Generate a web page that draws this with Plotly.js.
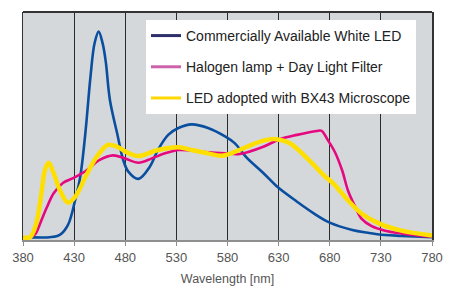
<!DOCTYPE html>
<html>
<head>
<meta charset="utf-8">
<script src="https://cdn.plot.ly/plotly-3.0.1.min.js"></script>
<style>
  html, body { margin: 0; padding: 0; background: #ffffff; }
  #chart { width: 450px; height: 286px; }
</style>
</head>
<body>
<div id="chart"></div>
<script>
// ---- Data (relative spectral intensity) ----
const seriesNames = [
  "Commercially Available White LED",
  "Halogen lamp + Day Light Filter",
  "LED adopted with BX43 Microscope"
];

const whiteLedWl = [380, 384, 406, 416, 424, 431, 436, 441, 446, 450, 454, 458, 461, 465, 472, 478, 483, 493, 504, 512, 522, 532, 545, 561, 578, 587, 599, 615, 629, 648, 664, 680, 702, 717, 734, 750, 780];
const whiteLedVal = [1.2, 1.2, 1.2, 2.2, 6.6, 17.5, 27.8, 46.9, 71.6, 86.3, 91.4, 86.0, 78.0, 61.4, 46.9, 35.1, 30.0, 26.8, 32.1, 39.5, 46.1, 49.1, 50.7, 49.1, 45.3, 42.5, 36.0, 29.4, 23.2, 16.8, 11.8, 7.6, 4.4, 3.2, 2.2, 1.8, 1.2];

const halogenWl = [380, 387, 392, 397, 403, 410, 419, 429, 442, 455, 468, 480, 493, 506, 519, 532, 545, 561, 578, 592, 615, 631, 648, 667, 672, 678, 685, 692, 698, 705, 711, 721, 734, 750, 780];
const halogenVal = [0.9, 1.2, 2.6, 7.5, 14.0, 20.5, 25.0, 27.1, 30.5, 35.1, 37.1, 35.7, 33.9, 35.8, 38.0, 39.5, 39.2, 38.5, 38.0, 37.7, 40.9, 44.2, 46.1, 47.8, 47.9, 43.9, 38.6, 30.7, 21.5, 14.5, 9.4, 6.1, 4.1, 2.9, 1.4];

const bx43Wl = [380, 387, 393, 398, 401.5, 405, 410, 416, 424, 431, 442, 452, 463, 472, 481, 493, 512, 532, 545, 561, 574, 587, 599, 615, 628, 641, 658, 674, 685, 698, 711, 728, 750, 780];
const bx43Val = [1.1, 1.3, 7.3, 20.5, 30.7, 33.9, 29.3, 21.9, 16.4, 18.9, 28.5, 36.4, 41.7, 40.9, 38.6, 36.8, 39.5, 40.7, 39.5, 38.0, 37.0, 38.6, 40.9, 43.6, 44.2, 42.4, 35.8, 28.5, 24.1, 17.3, 11.6, 7.3, 4.1, 2.0];

const xTicks = [380, 430, 480, 530, 580, 630, 680, 730, 780];
const xTitle = "Wavelength [nm]";

// ---- Styles ----
const FONT = "Liberation Sans, Arial, Helvetica, sans-serif";
const traceColors = ["#0a4f9f", "#e6087f", "#ffdf00"];
const legendColors = ["#2c2f6a", "#cc62aa", "#ffd800"];
const traceWidths = [2.6, 2.6, 4.5];

const xs = [whiteLedWl, halogenWl, bx43Wl];
const ys = [whiteLedVal, halogenVal, bx43Val];

const data = [];
for (let i = 0; i < 3; i++) {
  data.push({
    type: "scatter", mode: "lines",
    x: xs[i], y: ys[i],
    name: seriesNames[i],
    showlegend: false,
    hoverinfo: "skip",
    line: { color: traceColors[i], width: traceWidths[i], shape: "spline", smoothing: 1 }
  });
}
// legend entries (legend colours differ slightly from plotted colours in the original)
for (let i = 0; i < 3; i++) {
  data.push({
    type: "scatter", mode: "lines",
    x: [null], y: [null],
    name: seriesNames[i],
    legendgroup: "g" + i,
    showlegend: true,
    line: { color: legendColors[i], width: 3 }
  });
}

const layout = {
  width: 450, height: 286,
  margin: { l: 23, r: 18, t: 12, b: 46, pad: 0 },
  paper_bgcolor: "#ffffff",
  plot_bgcolor: "#d5d8db",
  font: { family: FONT, color: "#555555" },
  xaxis: {
    range: [380, 780],
    tickmode: "array", tickvals: xTicks, ticktext: xTicks.map(String),
    showgrid: true, gridcolor: "#2b2b2b", gridwidth: 1,
    zeroline: false,
    showline: true, linecolor: "#8e8e8e", linewidth: 2,
    ticks: "outside", ticklen: 4, tickcolor: "#8e8e8e", tickwidth: 1,
    tickfont: { family: FONT, size: 13, color: "#555555" },
    title: { text: xTitle, font: { family: FONT, size: 12.5, color: "#555555" }, standoff: 20 },
    fixedrange: true
  },
  yaxis: {
    range: [0, 100],
    showticklabels: false, showgrid: false, zeroline: false,
    showline: true, mirror: true, linecolor: "#333333", linewidth: 1.5,
    ticks: "", fixedrange: true
  },
  shapes: [
    { type: "line", xref: "paper", yref: "paper", x0: 0, x1: 1, y0: 1, y1: 1,
      line: { color: "#333333", width: 2 } }
  ],
  legend: {
    x: 0.3007, y: 0.965, xanchor: "left", yanchor: "top",
    bgcolor: "#ffffff", borderwidth: 0,
    font: { family: FONT, size: 14, color: "#222222" },
    traceorder: "grouped", tracegroupgap: 10
  },
  showlegend: true
};

Plotly.newPlot("chart", data, layout, { staticPlot: true, displayModeBar: false });
</script>
</body>
</html>
